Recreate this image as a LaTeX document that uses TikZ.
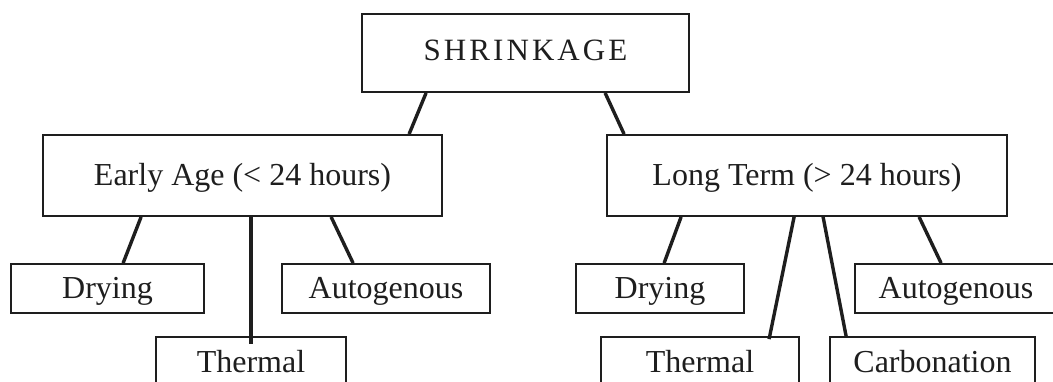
\documentclass[tikz,border=0pt]{standalone}
\usepackage{fontspec}
\setmainfont{Liberation Serif}
\definecolor{ink}{HTML}{1E1E1E}
\begin{document}
\begin{tikzpicture}[x=1pt,y=-1pt,
  box/.style={draw=ink,line width=1.8pt,rectangle,inner sep=0pt,
    font=\fontsize{32}{38}\selectfont,text=ink,
    text height=21pt,text depth=0pt},
  lowbox/.style={box,minimum height=70pt,text height=22pt,text depth=22pt},
  link/.style={draw=ink,line width=3.4pt}]
\useasboundingbox (0,0) rectangle (1053,382);
\clip (0,0) rectangle (1053,382);
\fill[white] (0,0) rectangle (1053,382);
% nodes
\node[box,minimum width=327pt,minimum height=78pt,text height=20.5pt,text depth=6pt,
  font=\fontsize{31}{36}\selectfont] (root) at (525.5,53)
  {\addfontfeature{LetterSpace=10}SHRINKAGE};
\node[box,minimum width=399pt,minimum height=81pt] (early) at (242.5,175.5) {Early Age (< 24 hours)};
\node[box,minimum width=400pt,minimum height=81pt] (long) at (807,175.5) {Long Term (> 24 hours)};
\node[box,minimum width=193pt,minimum height=49pt] (dryL) at (107.5,288.5) {Drying};
\node[box,minimum width=208pt,minimum height=49pt] (autoL) at (386,288.5) {Autogenous};
\node[lowbox,minimum width=190pt] (thermL) at (251,372) {Thermal};
\node[box,minimum width=168pt,minimum height=49pt] (dryR) at (660,288.5) {Drying};
\node[box,minimum width=202pt,minimum height=49pt] (autoR) at (956,288.5) {Autogenous};
\node[lowbox,minimum width=198pt] (thermR) at (700,372) {Thermal};
\node[lowbox,minimum width=205pt] (carb) at (932.5,372) {Carbonation};
% connectors
\draw[link] ([xshift=65pt]root.south west) -- ([xshift=367pt]early.north west);
\draw[link] ([xshift=244pt]root.south west) -- ([xshift=18pt]long.north west);
\draw[link] ([xshift=99pt]early.south west) -- ([xshift=113pt]dryL.north west);
\draw[link] ([xshift=209pt]early.south west) -- ([xshift=96pt,yshift=-8pt]thermL.north west);
\draw[link] ([xshift=289pt]early.south west) -- ([xshift=72pt]autoL.north west);
\draw[link] ([xshift=75pt]long.south west) -- ([xshift=89pt]dryR.north west);
\draw[link] ([xshift=188pt]long.south west) -- ([xshift=169pt,yshift=-3pt]thermR.north west);
\draw[link] ([xshift=217pt]long.south west) -- ([xshift=17pt]carb.north west);
\draw[link] ([xshift=313pt]long.south west) -- ([xshift=87pt]autoR.north west);
\end{tikzpicture}
\end{document}
